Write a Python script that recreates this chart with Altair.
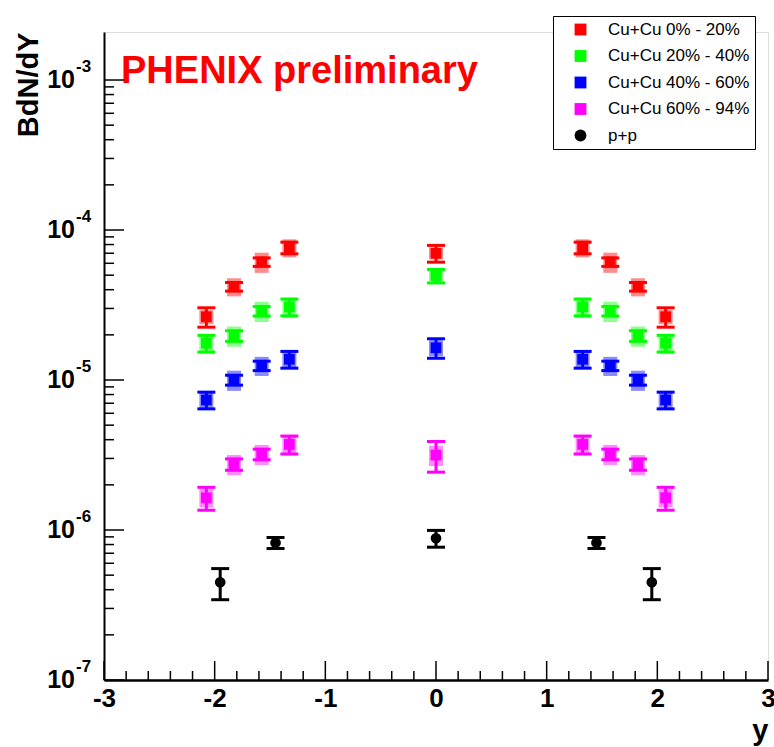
import altair as alt
import pandas as pd

# Centrality classes and colours
groups = ["Cu+Cu 0% - 20%", "Cu+Cu 20% - 40%", "Cu+Cu 40% - 60%", "Cu+Cu 60% - 94%", "p+p"]
colors = ["#ff0000", "#00ff00", "#0000ff", "#ff00ff", "#000000"]
shapes = ["square", "square", "square", "square", "circle"]

# Rapidity bin centres
cucu_rap = [-2.075, -1.825, -1.575, -1.325, 0.0, 1.325, 1.575, 1.825, 2.075]
pp_rap = [-1.95, -1.45, 0.0, 1.45, 1.95]

# B dN/dy values, statistical and systematic errors
cu0_val = [2.64e-5, 4.19e-5, 6.12e-5, 7.62e-5, 7.00e-5, 7.62e-5, 6.12e-5, 4.19e-5, 2.64e-5]
cu0_stat = [3.9e-6, 2.77e-6, 3.98e-6, 6.8e-6, 8.96e-6, 6.8e-6, 3.98e-6, 2.77e-6, 3.9e-6]
cu0_syst = [2.85e-6, 5.8e-6, 9.4e-6, 1.05e-5, 6.4e-6, 1.05e-5, 9.4e-6, 5.8e-6, 2.85e-6]

cu20_val = [1.76e-5, 1.97e-5, 2.88e-5, 3.07e-5, 4.95e-5, 3.07e-5, 2.88e-5, 1.97e-5, 1.76e-5]
cu20_stat = [2.25e-6, 1.6e-6, 2.09e-6, 3.93e-6, 5.1e-6, 3.93e-6, 2.09e-6, 1.6e-6, 2.25e-6]
cu20_syst = [2.62e-6, 3.03e-6, 4.44e-6, 4.73e-6, 3.76e-6, 4.73e-6, 4.44e-6, 3.03e-6, 2.62e-6]

cu40_val = [7.36e-6, 1.0e-5, 1.245e-5, 1.375e-5, 1.64e-5, 1.375e-5, 1.245e-5, 1.0e-5, 7.36e-6]
cu40_stat = [9.4e-7, 7.6e-7, 9.0e-7, 1.76e-6, 2.44e-6, 1.76e-6, 9.0e-7, 7.6e-7, 9.4e-7]
cu40_syst = [1.02e-6, 1.54e-6, 1.82e-6, 1.9e-6, 2.02e-6, 1.9e-6, 1.82e-6, 1.54e-6, 1.02e-6]

cu60_val = [1.64e-6, 2.74e-6, 3.20e-6, 3.72e-6, 3.16e-6, 3.72e-6, 3.20e-6, 2.74e-6, 1.64e-6]
cu60_stat = [2.85e-7, 2.38e-7, 2.6e-7, 5.1e-7, 7.3e-7, 5.1e-7, 2.6e-7, 2.38e-7, 2.85e-7]
cu60_syst = [2.26e-7, 4.2e-7, 4.9e-7, 5.1e-7, 4.9e-7, 5.1e-7, 4.9e-7, 4.2e-7, 2.26e-7]

pp_val = [4.48e-7, 8.22e-7, 8.81e-7, 8.22e-7, 4.48e-7]
pp_stat = [1.05e-7, 6.9e-8, 1.13e-7, 6.9e-8, 1.05e-7]

# Axis tick values
x_major = [-3, -2, -1, 0, 1, 2, 3]
y_decades = [1e-7, 1e-6, 1e-5, 1e-4, 1e-3]
y_exponents = ["-7", "-6", "-5", "-4", "-3"]

rows = []
series = [
    (groups[0], cucu_rap, cu0_val, cu0_stat, cu0_syst),
    (groups[1], cucu_rap, cu20_val, cu20_stat, cu20_syst),
    (groups[2], cucu_rap, cu40_val, cu40_stat, cu40_syst),
    (groups[3], cucu_rap, cu60_val, cu60_stat, cu60_syst),
    (groups[4], pp_rap, pp_val, pp_stat, [None] * len(pp_rap)),
]
for name, raps, vals, stats, systs in series:
    for r, v, s, sy in zip(raps, vals, stats, systs):
        rows.append({
            "group": name, "rap": r, "val": v,
            "lo": v - s, "hi": v + s,
            "slo": (v - sy) if sy is not None else None,
            "shi": (v + sy) if sy is not None else None,
        })
df = pd.DataFrame(rows)
df_sys = df.dropna(subset=["slo"])

x_minor = [round(-3 + 0.2 * i, 1) for i in range(31)]
x_minor = [t for t in x_minor if abs(t - round(t)) > 1e-6]
y_minor = [m * d for d in y_decades[:-1] for m in range(2, 10)]

W, H = 664, 648
FONT = "Liberation Sans"

X_SC = alt.Scale(domain=[-3, 3], nice=False, zero=False)
Y_SC = alt.Scale(type="log", domain=[1e-7, 2.09e-3], nice=False)
X_AX = alt.Axis(values=x_major, ticks=False, grid=False, domainColor="black", domainWidth=2.5,
                labelFont=FONT, labelFontSize=26, labelFontWeight="bold", labelColor="black",
                labelPadding=5, labelFlush=False,
                labelExpr="datum.value < 0 ? '-' + abs(datum.value) : '' + datum.value",
                title="y", titleFont=FONT, titleFontSize=29, titleFontWeight="bold",
                titleColor="black", titleAlign="right", titleAnchor="end",
                titleX=W, titleY=59, titleBaseline="alphabetic")
Y_AX = alt.Axis(labels=False, ticks=False, grid=False, domainColor="black", domainWidth=2,
                title="BdN/dY", titleFont=FONT, titleFontSize=29, titleFontWeight="bold",
                titleColor="black", titleAngle=-90, titleAlign="right", titleBaseline="middle",
                titleX=-76, titleY=0)

LEG = alt.Legend(title=None, orient="none", legendX=449, legendY=-16,
                 fillColor="white", strokeColor="black",
                 padding=5, symbolOffset=14, labelOffset=19, rowPadding=8.5,
                 symbolSize=140, symbolStrokeWidth=0,
                 labelFont=FONT, labelFontSize=17, labelColor="black")
COLOR = alt.Color("group:N", scale=alt.Scale(domain=groups, range=colors), legend=LEG)
SHAPE = alt.Shape("group:N", scale=alt.Scale(domain=groups, range=shapes), legend=LEG)

base = alt.Chart(df)

# systematic error boxes
syst = alt.Chart(df_sys).mark_rect(xOffset=-7, x2Offset=7, fillOpacity=0.45).encode(
    x=alt.X("rap:Q", scale=X_SC, axis=X_AX), x2="rap:Q",
    y=alt.Y("slo:Q", scale=Y_SC, axis=Y_AX), y2="shi:Q",
    color=COLOR,
)

# statistical error bars
stat_line = base.mark_rule(strokeWidth=3).encode(
    x=alt.X("rap:Q", scale=X_SC, axis=X_AX),
    y=alt.Y("lo:Q", scale=Y_SC, axis=Y_AX), y2="hi:Q",
    color=COLOR,
)
cap_hi = base.mark_rule(strokeWidth=3, xOffset=-9, x2Offset=9).encode(
    x=alt.X("rap:Q", scale=X_SC, axis=X_AX), x2="rap:Q",
    y=alt.Y("hi:Q", scale=Y_SC, axis=Y_AX),
    color=COLOR,
)
cap_lo = base.mark_rule(strokeWidth=3, xOffset=-9, x2Offset=9).encode(
    x=alt.X("rap:Q", scale=X_SC, axis=X_AX), x2="rap:Q",
    y=alt.Y("lo:Q", scale=Y_SC, axis=Y_AX),
    color=COLOR,
)

# markers
points = base.mark_point(filled=True, opacity=1, size=115).encode(
    x=alt.X("rap:Q", scale=X_SC, axis=X_AX),
    y=alt.Y("val:Q", scale=Y_SC, axis=Y_AX),
    color=COLOR, shape=SHAPE,
)

# inward tick marks
ymaj = alt.Chart(pd.DataFrame({"t": y_decades})).mark_rule(color="black", strokeWidth=1.5).encode(
    y=alt.Y("t:Q", scale=Y_SC, axis=Y_AX), x=alt.value(0), x2=alt.value(20))
ymin = alt.Chart(pd.DataFrame({"t": y_minor})).mark_rule(color="black", strokeWidth=1.5).encode(
    y=alt.Y("t:Q", scale=Y_SC, axis=Y_AX), x=alt.value(0), x2=alt.value(10))
xmaj = alt.Chart(pd.DataFrame({"t": x_major})).mark_rule(color="black", strokeWidth=1.5).encode(
    x=alt.X("t:Q", scale=X_SC, axis=X_AX), y=alt.value(H), y2=alt.value(H - 19))
xmin = alt.Chart(pd.DataFrame({"t": x_minor})).mark_rule(color="black", strokeWidth=1.5).encode(
    x=alt.X("t:Q", scale=X_SC, axis=X_AX), y=alt.value(H), y2=alt.value(H - 9))

# power-of-ten labels on the y axis
dec_df = pd.DataFrame({"t": y_decades, "base": ["10"] * len(y_decades), "exp": y_exponents})
ylab = alt.Chart(dec_df).mark_text(align="right", baseline="middle", font=FONT, fontSize=25,
                                   fontWeight="bold", color="black").encode(
    y=alt.Y("t:Q", scale=Y_SC, axis=Y_AX), x=alt.value(-29), text="base:N")
yexp = alt.Chart(dec_df).mark_text(align="left", baseline="middle", font=FONT, fontSize=17,
                                   fontWeight="bold", color="black", dy=-13).encode(
    y=alt.Y("t:Q", scale=Y_SC, axis=Y_AX), x=alt.value(-28), text="exp:N")

# preliminary label
prelim = alt.Chart(pd.DataFrame({"txt": ["PHENIX preliminary"]})).mark_text(
    align="left", baseline="alphabetic", font=FONT, fontSize=38, fontWeight="bold", color="#ff0000"
).encode(x=alt.value(17), y=alt.value(51), text="txt:N")

chart = alt.layer(
    syst, stat_line, cap_hi, cap_lo, points, ymaj, ymin, xmaj, xmin, ylab, yexp, prelim
).properties(
    width=W, height=H,
    autosize=alt.AutoSizeParams(type="none"),
    padding={"left": 104, "top": 32, "right": 6, "bottom": 67},
    background="white",
).configure_view(
    stroke="black", strokeWidth=1.5
).configure(font=FONT)

chart.save("out.html", embed_options={"renderer": "svg", "actions": False})
